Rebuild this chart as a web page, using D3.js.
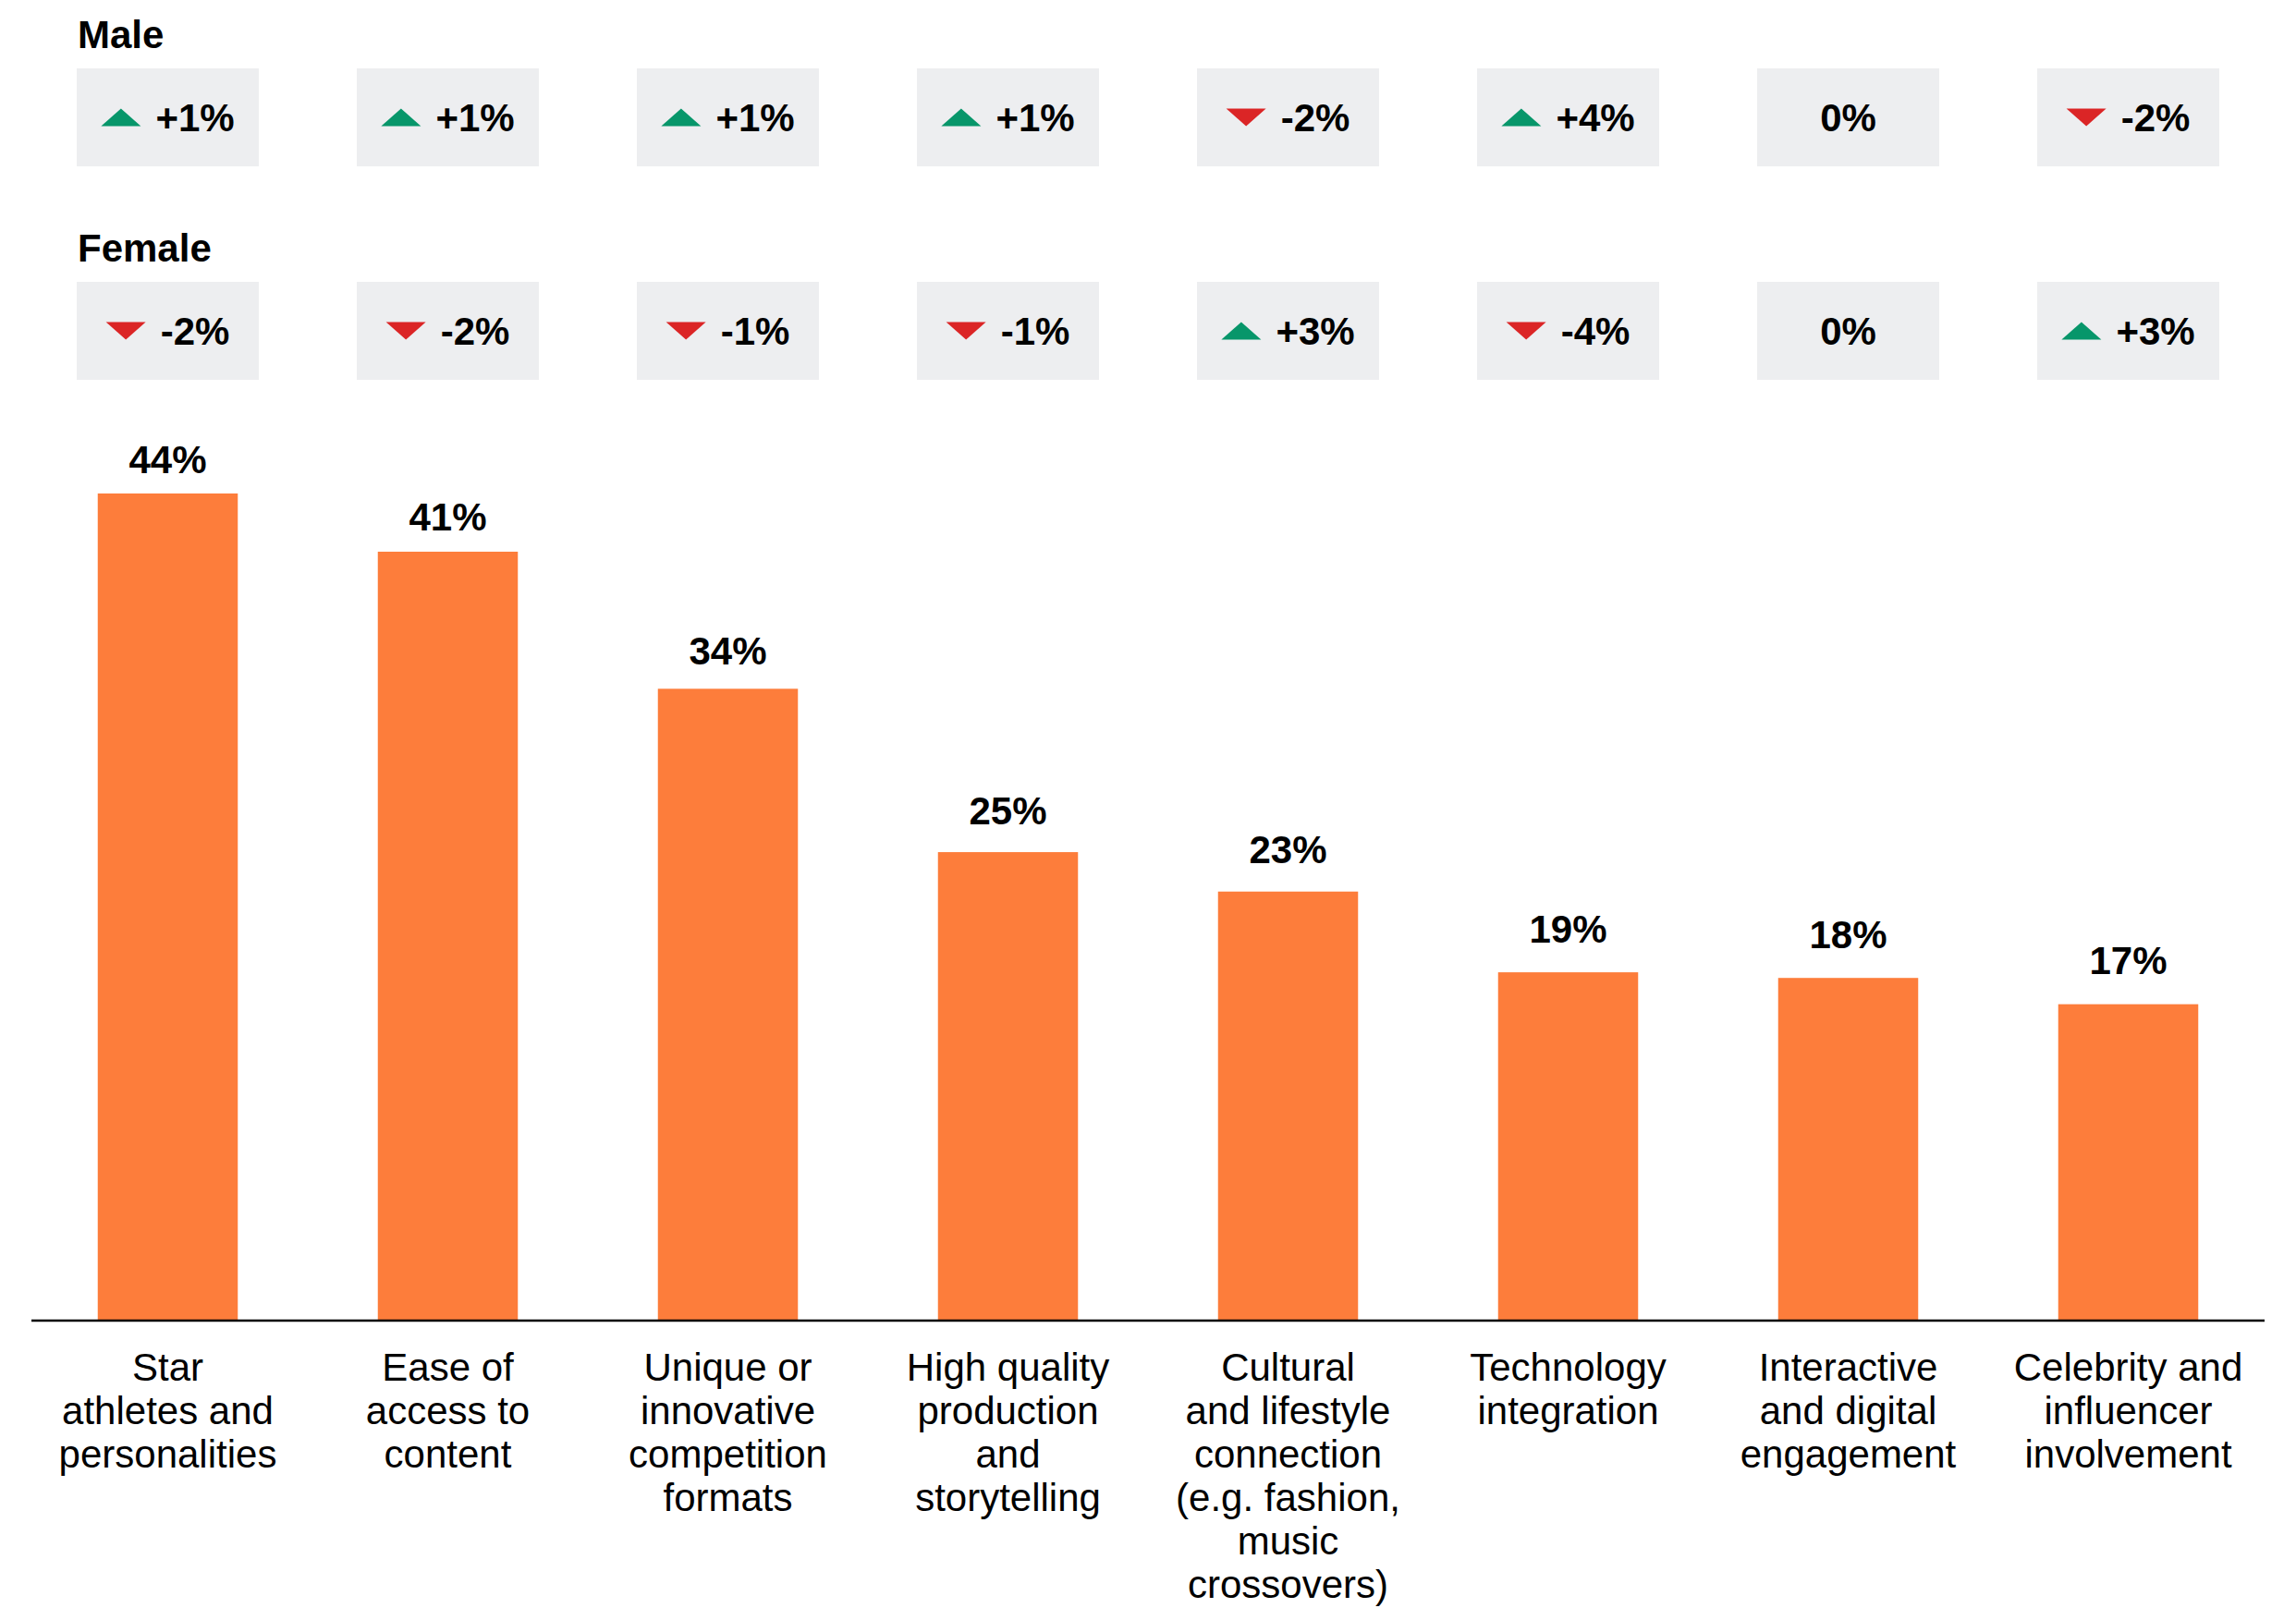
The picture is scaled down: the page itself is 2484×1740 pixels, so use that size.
<!DOCTYPE html>
<html>
<head>
<meta charset="utf-8">
<script src="https://cdn.jsdelivr.net/npm/d3@7/dist/d3.min.js"></script>
<style>
  body { margin: 0; background: #fff; }
  text { font-family: "Liberation Sans", Arial, Helvetica, sans-serif; fill: #000; }
</style>
</head>
<body>
<script>
var width = 2484;
var height = 1740;

// data
var categories = ["Star athletes and personalities", "Ease of access to content",
    "Unique or innovative competition formats", "High quality production and storytelling",
    "Cultural and lifestyle connection (e.g. fashion, music crossovers)", "Technology integration",
    "Interactive and digital engagement", "Celebrity and influencer involvement"];
var tickLines = [
    ["Star", "athletes and", "personalities"],
    ["Ease of", "access to", "content"],
    ["Unique or", "innovative", "competition", "formats"],
    ["High quality", "production", "and", "storytelling"],
    ["Cultural", "and lifestyle", "connection", "(e.g. fashion,", "music", "crossovers)"],
    ["Technology", "integration"],
    ["Interactive", "and digital", "engagement"],
    ["Celebrity and", "influencer", "involvement"]
];
var values = [44.0, 40.9, 33.6, 24.9, 22.8, 18.5, 18.2, 16.8];
var maleChange = [1, 1, 1, 1, -2, 4, 0, -2];
var femaleChange = [-2, -2, -1, -1, 3, -4, 0, 3];

var orange = "#fd7d3b";
var green = "#07966a";
var red = "#db2526";
var boxFill = "#edeef0";

var svg = d3.select("body").append("svg")
    .attr("width", width)
    .attr("height", height);

var x = d3.scaleBand()
    .domain(categories)
    .range([30, 2454])
    .paddingInner(0.5)
    .paddingOuter(0.25);

var y = d3.scaleLinear()
    .domain([0, 44])
    .range([1428, 534]);

// bars
svg.append("g").selectAll("rect")
    .data(values)
    .join("rect")
    .attr("x", function(d, i) { return x(categories[i]); })
    .attr("y", function(d) { return y(d); })
    .attr("width", x.bandwidth())
    .attr("height", function(d) { return y(0) - y(d); })
    .attr("fill", orange);

// value labels
svg.append("g").selectAll("text")
    .data(values)
    .join("text")
    .attr("x", function(d, i) { return x(categories[i]) + x.bandwidth() / 2; })
    .attr("y", function(d) { return y(d) - 22 - (44 - d) * 0.4; })
    .attr("text-anchor", "middle")
    .attr("font-size", "42px")
    .attr("font-weight", "bold")
    .text(function(d) { return Math.round(d) + "%"; });

// baseline
svg.append("line")
    .attr("x1", 34).attr("x2", 2450)
    .attr("y1", y(0) + 1).attr("y2", y(0) + 1)
    .attr("stroke", "#000")
    .attr("stroke-width", 2.5);

// category labels
var ticks = svg.append("g").selectAll("text")
    .data(tickLines)
    .join("text")
    .attr("text-anchor", "middle")
    .attr("font-size", "42px")
    .attr("transform", function(d, i) {
        return "translate(" + (x(categories[i]) + x.bandwidth() / 2) + "," + (y(0) + 66) + ")";
    });
ticks.selectAll("tspan")
    .data(function(d) { return d; })
    .join("tspan")
    .attr("x", 0)
    .attr("y", function(d, j) { return j * 47; })
    .text(function(d) { return d; });

// change boxes
function changeRow(title, changes, top) {
    svg.append("text")
        .attr("x", 84)
        .attr("y", top - 22)
        .attr("font-size", "42px")
        .attr("font-weight", "bold")
        .text(title);

    var boxW = 197, boxH = 106;
    var cells = svg.append("g").selectAll("g")
        .data(changes)
        .join("g")
        .attr("transform", function(d, i) {
            return "translate(" + (x(categories[i]) + x.bandwidth() / 2) + "," + (top + boxH / 2) + ")";
        });

    cells.append("rect")
        .attr("x", -boxW / 2)
        .attr("y", -boxH / 2)
        .attr("width", boxW)
        .attr("height", boxH)
        .attr("fill", boxFill);

    cells.each(function(d) {
        var g = d3.select(this);
        var label = d > 0 ? "+" + d + "%" : d + "%";
        var t = g.append("text")
            .attr("y", 15)
            .attr("font-size", "42px")
            .attr("font-weight", "bold")
            .text(label);
        var tw = t.node().getComputedTextLength();
        if (d === 0) {
            t.attr("x", -tw / 2);
            return;
        }
        var triW = 43, triH = 19, gap = 16;
        var total = triW + gap + tw;
        var left = -total / 2;
        t.attr("x", left + triW + gap);
        var pts = d > 0
            ? [[left, triH / 2], [left + triW, triH / 2], [left + triW / 2, -triH / 2]]
            : [[left, -triH / 2], [left + triW, -triH / 2], [left + triW / 2, triH / 2]];
        g.append("path")
            .attr("d", d3.line()(pts) + "Z")
            .attr("fill", d > 0 ? green : red);
    });
}

changeRow("Male", maleChange, 74);
changeRow("Female", femaleChange, 305);
</script>
</body>
</html>
